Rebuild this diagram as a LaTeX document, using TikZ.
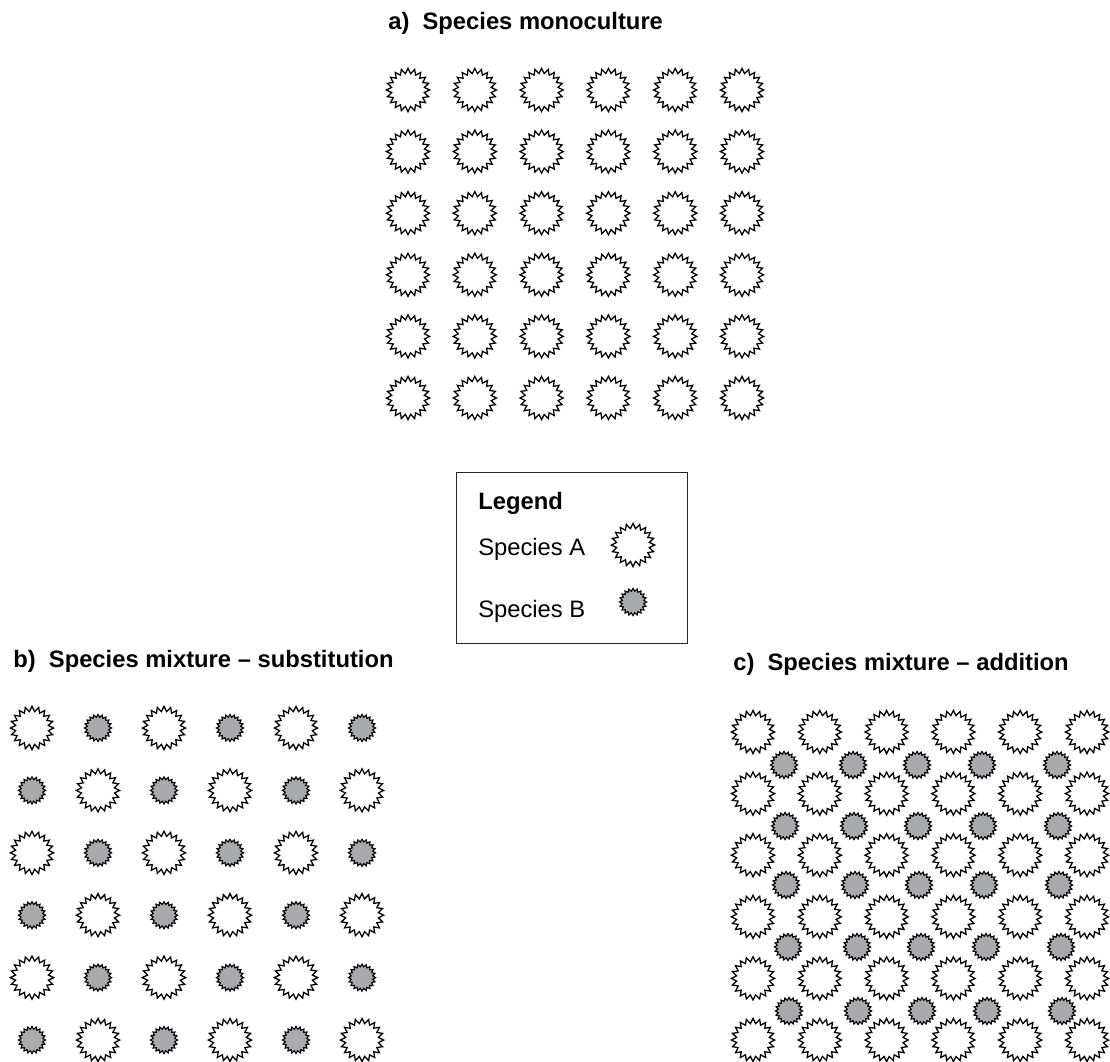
\documentclass[tikz,border=0pt]{standalone}
\usepackage{fontspec}
\setmainfont{Liberation Sans}
\usetikzlibrary{shapes.geometric}
\definecolor{speciesgrey}{RGB}{167,169,172}

\begin{document}
\begin{tikzpicture}[
  x=0.025cm, y=-0.025cm,
  paneltitle/.style={font=\fontsize{16.9}{20}\selectfont\bfseries,anchor=base west,inner sep=0pt},
  legtext/.style={font=\fontsize{16.9}{20}\selectfont,anchor=base west,inner sep=0pt},
  spA/.style={star,star points=20,star point ratio=1.3,minimum size=1.08cm,inner sep=0pt,
              draw=black,line width=0.9pt,fill=white},
  spB/.style={star,star points=20,star point ratio=1.25,minimum size=0.68cm,inner sep=0pt,
              draw=black,line width=0.8pt,fill=speciesgrey},
  mix0/.style={spA},
  mix1/.style={spB},
]
\useasboundingbox (0,0) rectangle (1110,1061);

%% ── a) monoculture ───────────────────────────────────────────────────────────
\node[paneltitle] (titleA) at (388,29) {a)\ \ Species monoculture};
\foreach \r in {0,...,5}
  \foreach \c in {0,...,5}
    \node[spA] (a-\r-\c) at ({408+66.8*\c},{90+61.6*\r}) {};

%% ── Legend ───────────────────────────────────────────────────────────────────
\node[draw=black!85,line width=0.8pt,anchor=north west,
      minimum width=5.775cm,minimum height=4.275cm,inner sep=0pt] (legend) at (456,472) {};
\node[paneltitle] (legtitle) at (478,509) {Legend};
\node[legtext] (legA) at (478,555) {Species A};
\node[legtext] (legB) at (478,617) {Species B};
\node[spA] (symA) at (633,545) {};
\node[spB] (symB) at (633,602) {};

%% ── b) substitution ──────────────────────────────────────────────────────────
\node[paneltitle] (titleB) at (13,667) {b)\ \ Species mixture -- substitution};
\foreach \r in {0,...,5}
  \foreach \c in {0,...,5}{
    \pgfmathtruncatemacro{\k}{mod(\r+\c,2)}
    \node[mix\k] (b-\r-\c) at ({32+66*\c},{728+62.4*\r}) {};
  }

%% ── c) addition ──────────────────────────────────────────────────────────────
\node[paneltitle] (titleC) at (733,670) {c)\ \ Species mixture -- addition};
\foreach \r in {0,...,5}
  \foreach \c in {0,...,5}
    \node[spA] (c-\r-\c) at ({753+66.8*\c},{732+61.6*\r}) {};
\foreach \r/\y/\dx in {1/765/0,2/826/1,3/885/2,4/947/4,5/1011/5}
  \foreach \c/\x in {1/784,2/853,3/917,4/982,5/1057}
    \node[spB] (cg-\r-\c) at ({\x+\dx},\y) {};

\end{tikzpicture}
\end{document}
